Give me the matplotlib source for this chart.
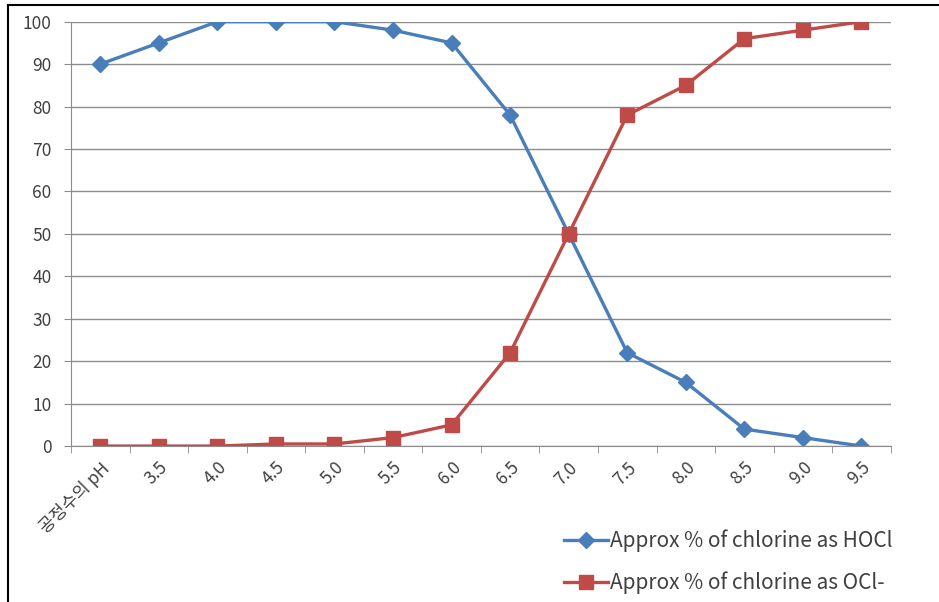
import numpy as np
import matplotlib.pyplot as plt
from matplotlib.lines import Line2D

plt.rcParams['font.family'] = ['Noto Sans CJK KR', 'DejaVu Sans']

# 데이터
categories = ['공정수의 pH', '3.5', '4.0', '4.5', '5.0', '5.5', '6.0',
              '6.5', '7.0', '7.5', '8.0', '8.5', '9.0', '9.5']
hocl = [90, 95, 100, 100, 100, 98, 95, 78, 50, 22, 15, 4, 2, 0]
ocl = [0, 0, 0, 0.5, 0.5, 2, 5, 22, 50, 78, 85, 96, 98, 100]
labels = ['Approx % of chlorine as HOCl', 'Approx % of chlorine as OCl-']

blue = '#4a7ebb'
red = '#be4b48'
text_c = '#404040'

fig = plt.figure(figsize=(9.39, 6.02), dpi=100)
ax = fig.add_axes([0.0756, 0.259, 0.873, 0.705])

x = np.arange(len(categories))
ax.plot(x, hocl, color=blue, lw=2.4, marker='D', ms=8.5, label=labels[0])
ax.plot(x, ocl, color=red, lw=2.4, marker='s', ms=10, label=labels[1])

ax.set_xlim(-0.5, len(categories) - 0.5)
ax.set_ylim(0, 100)
ax.set_yticks(np.arange(0, 101, 10))
ax.yaxis.grid(True, color='#8c8c8c', lw=1)
ax.set_axisbelow(True)

# 눈금은 카테고리 사이에
ax.set_xticks(np.arange(-0.5, len(categories), 1), minor=True)
ax.set_xticks(x)
ax.tick_params(axis='x', which='major', length=0, pad=9)
ax.tick_params(axis='x', which='minor', length=5, color='#8c8c8c', direction='out')
ax.tick_params(axis='y', length=5, color='#8c8c8c', labelcolor=text_c,
               labelsize=12.5, pad=9)
ax.set_xticklabels(categories)
for t in ax.get_xticklabels():
    t.set_rotation(45)
    t.set_ha('right')
    t.set_va('top')
    t.set_rotation_mode('anchor')
    t.set_color(text_c)
    t.set_fontsize(12.5)
for s in ['top', 'right']:
    ax.spines[s].set_visible(False)
for s in ['left', 'bottom']:
    ax.spines[s].set_color('#8c8c8c')

leg = fig.legend(loc='upper left', bbox_to_anchor=(0.5915, 0.134),
                 frameon=False, fontsize=15, labelspacing=0.92,
                 handlelength=2.1, handletextpad=0.1, borderaxespad=0)
for t in leg.get_texts():
    t.set_color(text_c)

# 바깥 테두리
fig.add_artist(Line2D([0.0085, 0.0085], [0, 0.992], color='black', lw=1.5,
                      transform=fig.transFigure))
fig.add_artist(Line2D([0.0085, 1], [0.992, 0.992], color='black', lw=1.5,
                      transform=fig.transFigure))

fig.savefig('out.png', dpi=100)
